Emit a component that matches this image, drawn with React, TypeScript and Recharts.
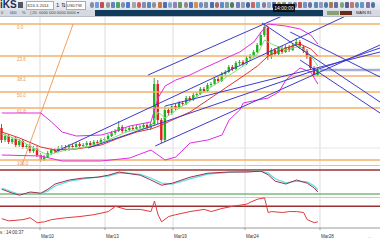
import React from 'react';
import { ComposedChart, LineChart, Line, Bar, XAxis, YAxis, ReferenceLine } from 'recharts';

// candle i sits at x = i on a numeric axis, right part of the axis is empty space
const X_DOMAIN: [number, number] = [-0.5, 106.5];
const PRICE_DOMAIN: [number, number] = [100.35, 101.83];

// [open, high, low, close]
const CANDLES: number[][] = [
  [100.72, 100.76, 100.57, 100.6], [100.6, 100.66, 100.58, 100.64], [100.64, 100.66, 100.56, 100.58],
  [100.58, 100.63, 100.56, 100.61], [100.61, 100.63, 100.53, 100.55], [100.55, 100.61, 100.53, 100.59],
  [100.59, 100.61, 100.51, 100.53], [100.53, 100.56, 100.51, 100.54], [100.54, 100.56, 100.47, 100.49],
  [100.49, 100.54, 100.47, 100.52], [100.52, 100.54, 100.43, 100.45], [100.45, 100.47, 100.38, 100.4],
  [100.4, 100.45, 100.39, 100.43], [100.43, 100.49, 100.42, 100.47], [100.47, 100.52, 100.45, 100.5],
  [100.5, 100.52, 100.47, 100.49], [100.49, 100.54, 100.48, 100.52], [100.52, 100.55, 100.5, 100.53],
  [100.53, 100.55, 100.49, 100.51], [100.51, 100.56, 100.49, 100.54], [100.54, 100.56, 100.51, 100.53],
  [100.53, 100.58, 100.52, 100.56], [100.56, 100.58, 100.52, 100.54], [100.54, 100.57, 100.53, 100.55],
  [100.55, 100.59, 100.53, 100.57], [100.57, 100.59, 100.53, 100.55], [100.55, 100.6, 100.54, 100.58],
  [100.58, 100.6, 100.55, 100.57], [100.57, 100.62, 100.56, 100.6], [100.6, 100.63, 100.58, 100.61],
  [100.61, 100.66, 100.6, 100.64], [100.64, 100.69, 100.63, 100.67], [100.67, 100.71, 100.65, 100.69],
  [100.69, 100.79, 100.68, 100.73], [100.73, 100.75, 100.67, 100.69], [100.69, 100.72, 100.67, 100.7],
  [100.7, 100.74, 100.69, 100.72], [100.72, 100.74, 100.69, 100.71], [100.71, 100.75, 100.7, 100.73],
  [100.73, 100.75, 100.71, 100.735], [100.73, 100.77, 100.72, 100.75], [100.75, 100.77, 100.7, 100.72],
  [100.72, 100.78, 100.7, 100.76], [100.76, 101.22, 100.74, 101.16], [101.16, 101.2, 100.76, 100.8],
  [100.8, 100.82, 100.57, 100.6], [100.6, 100.94, 100.58, 100.9], [100.9, 100.92, 100.84, 100.87],
  [100.87, 100.96, 100.85, 100.94], [100.94, 100.96, 100.9, 100.92], [100.92, 100.99, 100.91, 100.97],
  [100.97, 100.99, 100.94, 100.96], [100.96, 101.04, 100.95, 101.02], [101.02, 101.04, 100.98, 101.0],
  [101.0, 101.07, 100.99, 101.05], [101.05, 101.08, 101.03, 101.06], [101.06, 101.13, 101.05, 101.11],
  [101.11, 101.13, 101.07, 101.09], [101.09, 101.17, 101.08, 101.15], [101.15, 101.18, 101.13, 101.16],
  [101.16, 101.23, 101.15, 101.21], [101.21, 101.23, 101.17, 101.19], [101.19, 101.28, 101.18, 101.26],
  [101.26, 101.3, 101.24, 101.28], [101.28, 101.35, 101.27, 101.33], [101.33, 101.35, 101.29, 101.31],
  [101.31, 101.39, 101.3, 101.37], [101.37, 101.4, 101.35, 101.38], [101.38, 101.4, 101.34, 101.36],
  [101.36, 101.44, 101.35, 101.42], [101.42, 101.46, 101.4, 101.44], [101.44, 101.5, 101.42, 101.48],
  [101.48, 101.57, 101.47, 101.55], [101.55, 101.68, 101.54, 101.65], [101.65, 101.77, 101.63, 101.73],
  [101.72, 101.74, 101.4, 101.43], [101.43, 101.52, 101.41, 101.5], [101.5, 101.52, 101.44, 101.46],
  [101.46, 101.54, 101.45, 101.52], [101.52, 101.54, 101.46, 101.48], [101.48, 101.55, 101.47, 101.53],
  [101.53, 101.55, 101.48, 101.5], [101.5, 101.57, 101.49, 101.55], [101.55, 101.62, 101.54, 101.58],
  [101.58, 101.6, 101.51, 101.53], [101.53, 101.55, 101.47, 101.49], [101.49, 101.51, 101.41, 101.43],
  [101.43, 101.45, 101.3, 101.32], [101.32, 101.34, 101.23, 101.25], [101.25, 101.32, 101.24, 101.3],
];

const UPPER_BAND = [
  [0, 100.87], [11, 100.87], [14, 100.78], [17, 100.68], [21, 100.64], [28, 100.65], [32, 100.69],
  [36, 100.74], [42, 100.78], [44, 101.02], [46, 101.14], [49, 101.2], [53, 101.25], [57, 101.32],
  [62, 101.4], [67, 101.48], [71, 101.58], [73, 101.68], [75, 101.76], [80, 101.74], [84, 101.71],
  [87, 101.65], [89, 101.56],
];
const LOWER_BAND = [
  [0, 100.45], [11, 100.44], [17, 100.39], [28, 100.39], [36, 100.42], [42, 100.5], [44, 100.45],
  [46, 100.4], [49, 100.43], [53, 100.57], [58, 100.6], [62, 100.65], [64, 100.8], [67, 100.9],
  [68, 100.97], [72, 101.0], [75, 101.02], [78, 101.08], [80, 101.2], [84, 101.32], [87, 101.28],
  [89, 101.16],
];
const MID_MA = [
  [0, 100.68], [5, 100.62], [11, 100.53], [15, 100.5], [21, 100.51], [28, 100.55], [33, 100.62],
  [38, 100.68], [42, 100.71], [45, 100.75], [48, 100.8], [53, 100.88], [58, 101.0], [63, 101.12],
  [68, 101.24], [72, 101.34], [75, 101.44], [80, 101.52], [84, 101.56], [87, 101.51], [89, 101.44],
];
const FAST_MA = [
  [0, 100.66], [5, 100.6], [10, 100.5], [13, 100.45], [18, 100.5], [25, 100.54], [30, 100.6],
  [35, 100.68], [42, 100.73], [44, 100.88], [46, 100.82], [50, 100.92], [56, 101.06], [62, 101.2],
  [68, 101.34], [72, 101.46], [74, 101.6], [76, 101.56], [80, 101.5], [84, 101.54], [87, 101.44],
  [89, 101.34],
];

const FIB_LEVELS = [101.76, 101.44, 101.24, 101.08, 100.92, 100.4];
const FIB_LABELS = ['0.0', '23.6', '38.2', '50.0', '61.8', '100.0'];

// [x1, price1, x2, price2]
const TREND_LINES = [
  [41.2, 101.25, 106.5, 102.27],
  [15.0, 100.48, 106.5, 102.0],
  [24.3, 100.52, 106.5, 101.52],
  [43.2, 100.54, 106.5, 101.55],
  [46.0, 100.94, 106.5, 101.48],
  [73.3, 101.77, 106.5, 100.98],
  [81.2, 101.68, 106.5, 101.23],
  [84.0, 101.4, 106.5, 100.87],
];
const FAN_LINE = [5.7, 100.35, 20.1, 101.76];
const LAST_PRICE = 101.3;

const STOCH_K = [
  [0, 32], [3, 22], [5, 17], [8, 25], [11, 22], [13, 32], [15, 45], [19, 55], [23, 60], [27, 62],
  [30, 67], [33, 75], [35, 72], [39, 67], [42, 55], [45, 42], [48, 47], [53, 62], [58, 72], [64, 75],
  [69, 75], [73, 77], [75, 68], [77, 52], [80, 45], [83, 55], [86, 47], [88, 35], [89, 25],
];
const STOCH_D = [
  [0, 35], [3, 25], [5, 19], [8, 22], [11, 21], [13, 28], [15, 40], [19, 52], [23, 58], [27, 62],
  [30, 65], [33, 72], [35, 73], [39, 69], [42, 60], [45, 47], [48, 45], [53, 58], [58, 70], [64, 74],
  [69, 76], [73, 77], [75, 72], [77, 58], [80, 48], [83, 52], [86, 50], [88, 40], [89, 30],
];
const OSC = [
  [0, 30], [2, 23], [6, 27], [8, 33], [10, 17], [12, 20], [14, 27], [18, 33], [22, 37], [26, 43],
  [30, 53], [32, 70], [35, 60], [39, 60], [42, 53], [43, 87], [44, 43], [45, 20], [47, 37], [49, 43],
  [53, 53], [57, 60], [59, 53], [62, 63], [65, 70], [69, 77], [70, 83], [72, 93], [74, 97], [75, 50],
  [76, 53], [79, 50], [81, 53], [83, 53], [85, 50], [86, 27], [88, 17], [89, 20],
];

const DATE_X = [10.76, 29.07, 48.22, 68.5, 89.6];
const DATE_LABELS = ['Mar10', 'Mar13', 'Mar19', 'Mar24', 'Mar28'];

const candleData = CANDLES.map(([o, h, l, c], i) => ({ i, o, h, l, c }));
const pts = (arr: number[][]) => arr.map(([i, v]) => ({ i, v }));

const FONT = '"Liberation Sans", Arial, sans-serif';
const BLUE = '#3b3bcc';

const Candle = (props: any) => {
  const { x, y, width, height, payload } = props;
  if (!payload) return null;
  const { o, h, l, c } = payload;
  const top = Math.min(y, y + height);
  const hh = Math.abs(height);
  const cx = x + width / 2;
  const k = hh / (h - l || 1);
  const yo = top + (h - o) * k;
  const yc = top + (h - c) * k;
  const up = c >= o;
  const col = up ? '#1cb51c' : '#e0201c';
  return (
    <g>
      <line x1={cx} x2={cx} y1={top} y2={top + hh} stroke={up ? '#178a17' : '#b01515'} strokeWidth={0.8} />
      <rect x={cx - 1.2} y={Math.min(yo, yc)} width={2.4} height={Math.max(1, Math.abs(yo - yc))} fill={col} />
    </g>
  );
};

const Toolbar = () => {
  const icons = ['#6a7fa8', '#5a8fd0', '#c03030', '#8a8a8a', '#5070b0', '#2f9a4a', '#7080a0', '#3366cc', '#9a9a9a',
    '#d04040', '#6a7fa8', '#4a6fb8', '#808080', '#c06030', '#3a5a9a', '#6a9ad0', '#8a6ab0', '#4a8a4a', '#7a7a7a',
    '#3060b0', '#d08030', '#5a7ab8', '#708090', '#2a5aa0', '#a05050', '#4a7ac0', '#6a8aa0', '#3a6a3a', '#5a6ab0',
    '#8090b0', '#2a4a8a', '#c05050', '#4a9ad0', '#6a6a9a', '#8aa0c0', '#3050a0', '#a07030', '#5a8a5a', '#7a8ab8',
    '#4060a0', '#b04040', '#6080c0', '#5a5a8a', '#3a7ab0', '#8a8ab0', '#2a6a9a', '#9a6a3a', '#4a5a9a', '#6a9a6a',
    '#3a4a8a', '#c06060', '#5a7aa0', '#4a8ab8', '#7a5a9a', '#3060a0'];
  return (
    <div style={{ position: 'absolute', left: 0, top: 0, width: 380, height: 17, fontFamily: FONT }}>
      <div style={{ position: 'absolute', left: 0, top: 0, width: 380, height: 10, background: 'linear-gradient(#f1f3f6, #dfe3e9)' }}>
        <span style={{ position: 'absolute', left: 0, top: -1, fontSize: 10, fontWeight: 700, color: '#1c2f55' }}>iKS</span>
        <div style={{ position: 'absolute', left: 18, top: 2, width: 5, height: 6, background: '#556' }} />
        <div style={{ position: 'absolute', left: 26, top: 1, width: 26, height: 7, background: '#fff', border: '1px solid #aab', fontSize: 4, lineHeight: '7px', color: '#333' }}>3/24-3-2014</div>
        <span style={{ position: 'absolute', left: 56, top: 1, fontSize: 6, color: '#333' }}>1 ⇅</span>
        <div style={{ position: 'absolute', left: 66, top: 1, width: 18, height: 7, background: '#fff', border: '1px solid #aab', fontSize: 4, lineHeight: '7px', color: '#333' }}>USDTW</div>
        {icons.map((c, k) => (
          <div key={k} style={{ position: 'absolute', left: 90 + k * 5.2, top: 2, width: 4, height: 6, background: c, borderRadius: k % 3 === 0 ? 3 : 1, opacity: 0.85 }} />
        ))}
        <div style={{ position: 'absolute', left: 273, top: 4, width: 22, height: 8, background: '#111', color: '#fff', fontSize: 5, lineHeight: '8px', textAlign: 'center', zIndex: 2 }}>14:00:00</div>
      </div>
      <div style={{ position: 'absolute', left: 0, top: 10, width: 380, height: 6, background: '#d5dae2', borderBottom: '1px solid #b8bec8' }}>
        <span style={{ position: 'absolute', left: 1, top: 0, fontSize: 4, lineHeight: '6px', color: '#444', whiteSpace: 'pre' }}>{'0      000     %    | 20  0000 000 0000 0000 ▾'}</span>
        <div style={{ position: 'absolute', left: 95, top: 0, width: 228, height: 6, background: '#123c5c' }} />
        <div style={{ position: 'absolute', left: 327, top: 1, width: 12, height: 4, background: '#8aa070' }} />
        <div style={{ position: 'absolute', left: 340, top: 1, width: 12, height: 4, background: '#6a2a1a' }} />
        <span style={{ position: 'absolute', left: 356, top: 0, fontSize: 4, lineHeight: '6px', color: '#223' }}>MAIN 81</span>
      </div>
    </div>
  );
};

export default function App() {
  const margin = { top: 0, right: 0, bottom: 0, left: 0 };
  return (
    <div style={{ position: 'fixed', left: 0, top: 0, width: 380, height: 240, background: '#fff', overflow: 'hidden', fontFamily: FONT }}>
      <Toolbar />

      <div style={{ position: 'absolute', left: 0, top: 17 }}>
        <ComposedChart width={380} height={148} data={candleData} margin={margin}>
          <XAxis type="number" dataKey="i" domain={X_DOMAIN} hide allowDataOverflow />
          <YAxis type="number" domain={PRICE_DOMAIN} hide allowDataOverflow />
          {DATE_X.map((x) => (
            <ReferenceLine key={x} x={x} stroke="#dcdcdc" ifOverflow="hidden" />
          ))}
          <ReferenceLine y={100.52} stroke="#e6e6e6" />
          {FIB_LEVELS.map((v, k) => (
            <ReferenceLine
              key={v}
              y={v}
              stroke="#f1b26a"
              strokeWidth={1.3}
              label={(p: any) => (
                <text x={(p.viewBox?.x ?? 0) + 17} y={(p.viewBox?.y ?? 0) + 5} fontSize={4.5} fill="#e09a50" fontFamily={FONT}>
                  {FIB_LABELS[k]}
                </text>
              )}
            />
          ))}
          <ReferenceLine
            segment={[{ x: FAN_LINE[0], y: FAN_LINE[1] }, { x: FAN_LINE[2], y: FAN_LINE[3] }]}
            stroke="#f0a060"
            ifOverflow="hidden"
          />
          <ReferenceLine
            segment={[{ x: 89.6, y: LAST_PRICE }, { x: 106.5, y: LAST_PRICE }]}
            stroke="#a9aed6"
            strokeWidth={2.5}
            ifOverflow="hidden"
          />
          <Line data={pts(UPPER_BAND)} dataKey="v" type="linear" stroke="#e22ce2" strokeWidth={1} dot={false} isAnimationActive={false} />
          <Line data={pts(LOWER_BAND)} dataKey="v" type="linear" stroke="#e22ce2" strokeWidth={1} dot={false} isAnimationActive={false} />
          <Line data={pts(MID_MA)} dataKey="v" type="linear" stroke="#e23030" strokeWidth={1} dot={false} isAnimationActive={false} />
          <Line data={pts(FAST_MA)} dataKey="v" type="linear" stroke="#7fe07f" strokeWidth={1} dot={false} isAnimationActive={false} />
          <Bar dataKey={(d: any) => [d.l, d.h]} barSize={3} shape={Candle} isAnimationActive={false} />
          {TREND_LINES.map(([x1, y1, x2, y2], k) => (
            <ReferenceLine key={k} segment={[{ x: x1, y: y1 }, { x: x2, y: y2 }]} stroke={BLUE} strokeWidth={1} ifOverflow="hidden" />
          ))}
        </ComposedChart>
      </div>

      <div style={{ position: 'absolute', left: 0, top: 165, width: 380, height: 1, background: '#c8c8c8' }} />

      <div style={{ position: 'absolute', left: 0, top: 165 }}>
        <LineChart width={380} height={32} margin={margin}>
          <XAxis type="number" dataKey="i" domain={X_DOMAIN} hide allowDataOverflow />
          <YAxis type="number" domain={[12.5, 92.5]} hide allowDataOverflow />
          {DATE_X.map((x) => (
            <ReferenceLine key={x} x={x} stroke="#dcdcdc" ifOverflow="hidden" />
          ))}
          <ReferenceLine y={80} stroke="#9a3030" strokeWidth={1.5} />
          <ReferenceLine y={20} stroke="#3a9a3a" strokeWidth={1.2} />
          <Line data={pts(STOCH_D)} dataKey="v" type="linear" stroke="#5fe0e0" strokeWidth={1.3} dot={false} isAnimationActive={false} />
          <Line data={pts(STOCH_K)} dataKey="v" type="linear" stroke="#a03050" strokeWidth={1} dot={false} isAnimationActive={false} />
        </LineChart>
      </div>

      <div style={{ position: 'absolute', left: 0, top: 197, width: 380, height: 1, background: '#c8c8c8' }} />

      <div style={{ position: 'absolute', left: 0, top: 197 }}>
        <LineChart width={380} height={43} margin={margin}>
          <XAxis
            type="number"
            dataKey="i"
            domain={X_DOMAIN}
            allowDataOverflow
            ticks={DATE_X}
            height={12}
            stroke="#9a9a9a"
            tickSize={2}
            interval={0}
            tick={(p: any) => {
              const k = DATE_X.indexOf(p.payload.value);
              return (
                <text x={p.x + 1} y={p.y + 6} fontSize={4.5} fill="#333" fontFamily={FONT}>
                  {DATE_LABELS[k]}
                </text>
              );
            }}
          />
          <YAxis type="number" domain={[0, 100]} hide allowDataOverflow />
          {DATE_X.map((x) => (
            <ReferenceLine key={x} x={x} stroke="#dcdcdc" ifOverflow="hidden" />
          ))}
          <ReferenceLine y={70} stroke="#9a3030" strokeWidth={1.5} />
          <Line data={pts(OSC)} dataKey="v" type="linear" stroke="#e23a3a" strokeWidth={1} dot={false} isAnimationActive={false} />
        </LineChart>
      </div>

      <div style={{ position: 'absolute', left: 0, top: 230, fontSize: 4.5, color: '#333', whiteSpace: 'pre' }}>{'s : 14:00:37'}</div>
      <div style={{ position: 'absolute', left: 368, top: 234, fontSize: 4, color: '#888' }}>...</div>
    </div>
  );
}
